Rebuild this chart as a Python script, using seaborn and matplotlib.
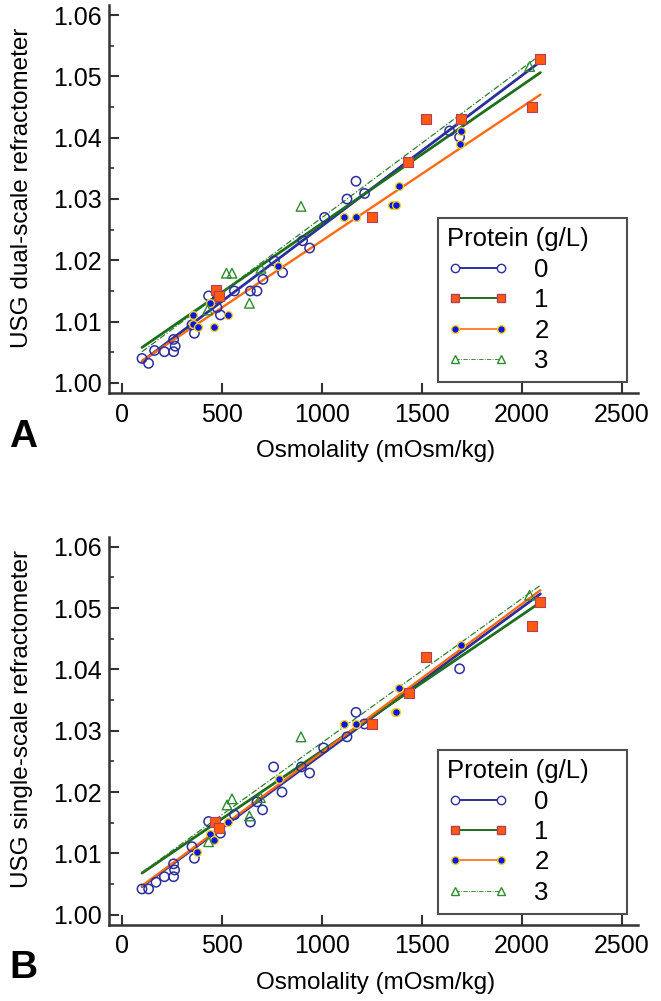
import numpy as np
import seaborn as sns
import matplotlib.pyplot as plt
from matplotlib.lines import Line2D
from matplotlib.ticker import MultipleLocator, FormatStrFormatter

# -----------------------------
# Panel A: dual-scale refractometer
# -----------------------------
a_osm_0 = [100, 133, 163, 212, 258, 258, 266, 350, 362, 433, 475, 492, 562, 642, 675,
           705, 762, 803, 903, 938, 1013, 1125, 1170, 1213, 1638, 1688]
a_usg_0 = [1.0040, 1.0032, 1.0053, 1.0051, 1.0051, 1.0071, 1.0060, 1.0095, 1.0081, 1.0142,
           1.0123, 1.0111, 1.0150, 1.0150, 1.0150, 1.0169, 1.0199, 1.0180, 1.0232, 1.0220,
           1.0270, 1.0300, 1.0329, 1.0309, 1.0411, 1.0401]
a_osm_1 = [470, 487, 1250, 1430, 1520, 1697, 2050, 2092]
a_usg_1 = [1.0151, 1.0142, 1.0270, 1.0360, 1.0430, 1.0430, 1.0450, 1.0528]
a_osm_2 = [355, 355, 378, 438, 458, 530, 780, 1112, 1170, 1350, 1370, 1387, 1692, 1697]
a_usg_2 = [1.0111, 1.0097, 1.0091, 1.0130, 1.0091, 1.0111, 1.0191, 1.0270, 1.0270, 1.0290,
           1.0290, 1.0322, 1.0389, 1.0411]
a_osm_3 = [428, 522, 550, 637, 695, 895, 2038]
a_usg_3 = [1.0119, 1.0179, 1.0179, 1.0130, 1.0187, 1.0288, 1.0516]

# fitted lines (slope per mOsm/kg, intercept), groups 0..3
a_slope = [2.455e-5, 2.25e-5, 2.18e-5, 2.43e-5]
a_icpt = [1.00105, 1.00354, 1.00141, 1.00267]

# -----------------------------
# Panel B: single-scale refractometer
# -----------------------------
b_osm_0 = [100, 133, 170, 212, 258, 263, 258, 350, 362, 433, 492, 562, 642, 675, 703,
           758, 800, 897, 938, 1008, 1125, 1170, 1212, 1688]
b_usg_0 = [1.0042, 1.0042, 1.0053, 1.0062, 1.0062, 1.0073, 1.0083, 1.0111, 1.0092, 1.0152,
           1.0133, 1.0163, 1.0151, 1.0184, 1.0171, 1.0241, 1.0200, 1.0241, 1.0231, 1.0272,
           1.0290, 1.0330, 1.0311, 1.0401]
b_osm_1 = [467, 483, 1250, 1433, 1520, 2050, 2092]
b_usg_1 = [1.0152, 1.0142, 1.0311, 1.0361, 1.0421, 1.0470, 1.0510]
b_osm_2 = [375, 438, 458, 528, 783, 1108, 1170, 1365, 1372, 1387, 1697]
b_usg_2 = [1.0103, 1.0131, 1.0122, 1.0152, 1.0222, 1.0311, 1.0311, 1.0330, 1.0330, 1.0370,
           1.0440]
b_osm_3 = [433, 525, 550, 637, 692, 895, 2038]
b_usg_3 = [1.0119, 1.0179, 1.0189, 1.0161, 1.0191, 1.0290, 1.0521]

b_slope = [2.396e-5, 2.216e-5, 2.42e-5, 2.35e-5]
b_icpt = [1.00220, 1.00457, 1.00228, 1.00455]

fit_range = [100, 2092]
protein = ["0", "1", "2", "3"]
x_ticks = [0, 500, 1000, 1500, 2000, 2500]

# -----------------------------
# styles per protein group
# -----------------------------
line_col = ["#2b2f9c", "#1d6e1d", "#ff6a13", "#2e7d2e"]
line_w = [2.0, 2.0, 1.7, 0.9]
line_ls = ["-", "-", "-", (0, (5, 1.5, 1, 1.5))]
mk = ["o", "s", "o", "^"]
mk_face = ["none", "#ff5a0f", "#0a14e6", "none"]
mk_edge = ["#2b2f9c", "#b0405a", "#f2d21a", "#2e8b2e"]
mk_size = [45, 42, 32, 48]
mk_lw = [1.1, 0.8, 1.0, 1.0]

sns.set_style("ticks")
plt.rcParams['font.family'] = ['Liberation Sans', 'DejaVu Sans']
plt.rcParams.update({"text.color": "black", "axes.labelcolor": "black",
                     "xtick.labelcolor": "black", "ytick.labelcolor": "black"})

fig = plt.figure(figsize=(6.61, 10.01), dpi=100)
ax_a = fig.add_axes([0.1649, 0.6074, 0.8003, 0.3876])
ax_b = fig.add_axes([0.1649, 0.0762, 0.8003, 0.3876])

panels = [
    (ax_a, [a_osm_0, a_osm_1, a_osm_2, a_osm_3], [a_usg_0, a_usg_1, a_usg_2, a_usg_3],
     a_slope, a_icpt, "USG dual-scale refractometer", "A"),
    (ax_b, [b_osm_0, b_osm_1, b_osm_2, b_osm_3], [b_usg_0, b_usg_1, b_usg_2, b_usg_3],
     b_slope, b_icpt, "USG single-scale refractometer", "B"),
]

for ax, xs, ys, slopes, icpts, ylab, tag in panels:
    # points
    for g in range(4):
        sns.scatterplot(x=xs[g], y=ys[g], ax=ax, marker=mk[g], s=mk_size[g],
                        facecolor=mk_face[g], edgecolor=mk_edge[g],
                        linewidth=mk_lw[g], zorder=3, legend=False)
    # fitted lines
    fx = np.array(fit_range, dtype=float)
    for g in range(4):
        fy = icpts[g] + slopes[g] * fx
        sns.lineplot(x=fx, y=fy, ax=ax, color=line_col[g], linewidth=line_w[g],
                     linestyle=line_ls[g], zorder=2 + g * 0.01, legend=False)

    ax.set_xlim(-65, 2580)
    ax.set_ylim(0.99837, 1.06163)
    ax.set_xticks(x_ticks)
    ax.yaxis.set_major_locator(MultipleLocator(0.01))
    ax.yaxis.set_minor_locator(MultipleLocator(0.005))
    ax.yaxis.set_major_formatter(FormatStrFormatter("%.2f"))
    ax.tick_params(which="major", direction="in", length=7, width=1.5,
                   labelsize=18, color="#333333", labelcolor="black")
    ax.tick_params(axis="x", pad=7)
    ax.tick_params(axis="y", pad=5)
    ax.tick_params(which="minor", axis="y", direction="in", length=3.5, width=1.2,
                   color="#333333")
    sns.despine(ax=ax)
    for side in ["left", "bottom"]:
        ax.spines[side].set_linewidth(1.8)
        ax.spines[side].set_color("#333333")

    ax.set_xlabel("Osmolality (mOsm/kg)", fontsize=17.5, color="black")
    ax.set_ylabel(ylab, fontsize=17.5, color="black")
    ax.xaxis.set_label_coords(0.503, -0.121)
    ax.yaxis.set_label_coords(-0.143, 0.53)

    handles = [Line2D([], [], color=line_col[g], lw=line_w[g] * 0.7, ls=line_ls[g],
                      marker=mk[g], markersize=6 if g != 2 else 5.5,
                      markerfacecolor="white" if mk_face[g] == "none" else mk_face[g],
                      markeredgecolor=mk_edge[g], markeredgewidth=1.0)
               for g in range(4)]
    leg = ax.legend(handles, protein, title="Protein (g/L)", loc="lower left",
                    bbox_to_anchor=(0.622, 0.028, 0.357, 0.42), mode="expand",
                    borderaxespad=0, fancybox=False, frameon=True, fontsize=18.5,
                    title_fontsize=18.5, alignment="left", numpoints=2,
                    handlelength=2.4, handletextpad=1.0, labelspacing=0.25,
                    borderpad=0.35, labelcolor="black")
    leg.get_title().set_color("black")
    leg.get_frame().set_edgecolor("#222222")
    leg.get_frame().set_linewidth(1.5)

    y_tag = 437 if tag == "A" else 968
    fig.text(23 / 661, 1 - y_tag / 1001, tag, fontsize=28, fontweight="bold",
             ha="center", va="center", color="black")

fig.savefig("out.png", dpi=100)
